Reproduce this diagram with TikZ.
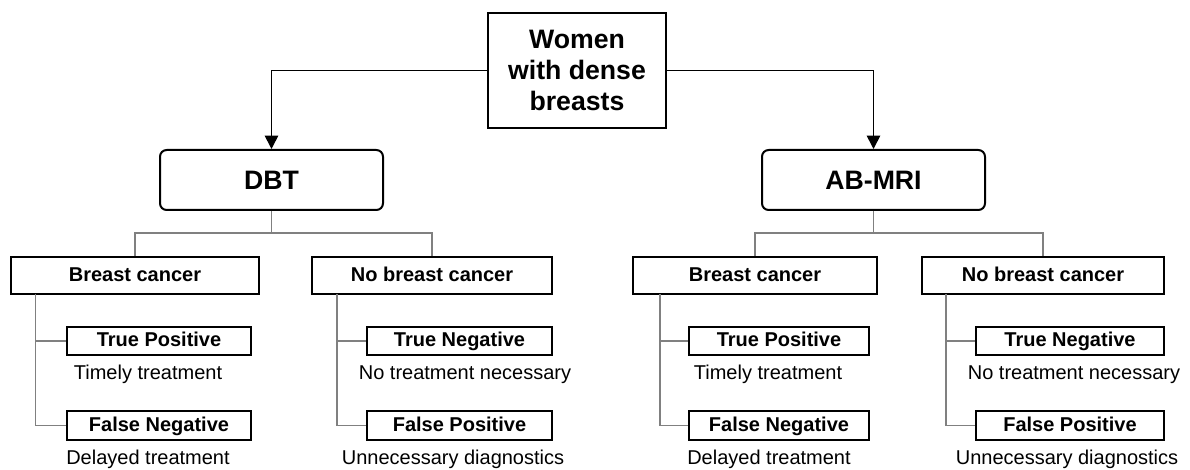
\documentclass[tikz,border=0pt]{standalone}
\usepackage{fontspec}
\setmainfont{Liberation Sans}
\usetikzlibrary{arrows.meta}

\begin{document}
\begin{tikzpicture}[x=0.75pt, y=-0.75pt, >={Triangle[length=10pt,width=10pt]},
		topbox/.style={draw, line width=1.5pt, inner sep=0pt, align=center, minimum width=133.5pt, minimum height=86.25pt, font=\fontsize{20}{23.25}\selectfont\bfseries},
		modbox/.style={draw, line width=1.5pt, rounded corners=5pt, inner sep=0pt, minimum width=167.25pt, minimum height=45pt, font=\fontsize{20}{24}\selectfont\bfseries},
		groupbox/.style={draw, line width=1.5pt, inner sep=0pt, minimum height=27.75pt, text height=10.5pt, text depth=2pt, font=\fontsize{15}{18}\selectfont\bfseries},
		outbox/.style={draw, line width=1.5pt, inner sep=0pt, minimum height=21.5pt, text height=10.5pt, text depth=2pt, font=\fontsize{15}{18}\selectfont\bfseries},
		effect/.style={inner sep=0pt, text height=10.5pt, text depth=1pt, font=\fontsize{15}{18}\selectfont},
		link/.style={draw=gray, line width=1.3pt}]
	\useasboundingbox (0,0) rectangle (1190,470);

	% Root and modalities
	\node[topbox] (women) at (577,70.5) {Women\\with dense\\breasts};
	\node[modbox] (dbt) at (271.5,180) {DBT};
	\node[modbox] (abmri) at (873.5,180) {AB-MRI};

	\draw[->, line width=1.3pt] (women.west) -| (dbt.north);
	\draw[->, line width=1.3pt] (women.east) -| (abmri.north);

	% Groups
	\node[groupbox, minimum width=186pt] (bc1) at (135,275.5) {Breast cancer};
	\node[groupbox, minimum width=180pt] (nbc1) at (432,275.5) {No breast cancer};
	\node[groupbox, minimum width=183pt] (bc2) at (755,275.5) {Breast cancer};
	\node[groupbox, minimum width=181.5pt] (nbc2) at (1043,275.5) {No breast cancer};

	\coordinate (j1) at (271.5,233);
	\coordinate (j2) at (873.5,233);
	\draw[link] (dbt.south) -- (j1);
	\draw[link] (bc1.north) |- (j1) -| (nbc1.north);
	\draw[link] (abmri.south) -- (j2);
	\draw[link] (bc2.north) |- (j2) -| (nbc2.north);

	% Outcomes, DBT
	\node[outbox, minimum width=138pt] (tp1) at (159,341) {True Positive};
	\node[outbox, minimum width=138pt] (fn1) at (159,425.5) {False Negative};
	\node[outbox, minimum width=139pt] (tn1) at (459.5,341) {True Negative};
	\node[outbox, minimum width=139pt] (fp1) at (459.5,425.5) {False Positive};
	\node[effect] (tpt1) at (148,373) {Timely treatment};
	\node[effect] (fnt1) at (148,458) {Delayed treatment};
	\node[effect] (tnt1) at (465,373) {No treatment necessary};
	\node[effect] (fpt1) at (453,458) {Unnecessary diagnostics};

	% Outcomes, AB-MRI
	\node[outbox, minimum width=135pt] (tp2) at (779,341) {True Positive};
	\node[outbox, minimum width=135pt] (fn2) at (779,425.5) {False Negative};
	\node[outbox, minimum width=141pt] (tn2) at (1070,341) {True Negative};
	\node[outbox, minimum width=141pt] (fp2) at (1070,425.5) {False Positive};
	\node[effect] (tpt2) at (768,373) {Timely treatment};
	\node[effect] (fnt2) at (769,458) {Delayed treatment};
	\node[effect] (tnt2) at (1074,373) {No treatment necessary};
	\node[effect] (fpt2) at (1067,458) {Unnecessary diagnostics};

	% Trunks
	\coordinate (k1) at (35.6,294);
	\coordinate (k2) at (337,294);
	\coordinate (k3) at (660,294);
	\coordinate (k4) at (946,294);
	\draw[link] (k1) |- (fn1.west);
	\draw[link] (tp1.west) -- (tp1.west -| k1);
	\draw[link] (k2) |- (fp1.west);
	\draw[link] (tn1.west) -- (tn1.west -| k2);
	\draw[link] (k3) |- (fn2.west);
	\draw[link] (tp2.west) -- (tp2.west -| k3);
	\draw[link] (k4) |- (fp2.west);
	\draw[link] (tn2.west) -- (tn2.west -| k4);

\end{tikzpicture}
\end{document}
